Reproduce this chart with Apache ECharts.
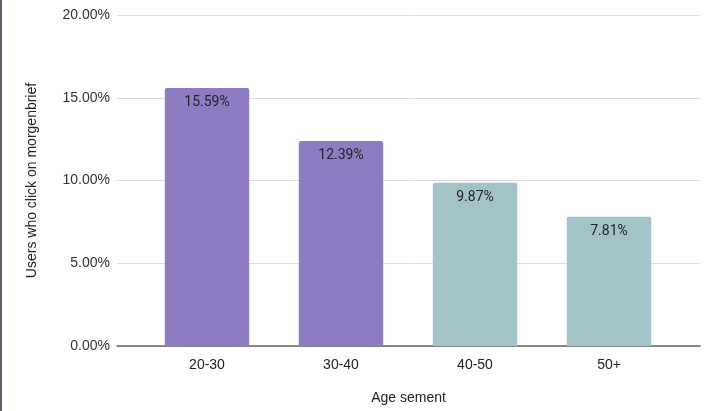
<!DOCTYPE html>
<html><head><meta charset="utf-8">
<script src="https://cdn.jsdelivr.net/npm/echarts@6/dist/echarts.min.js"></script>
<style>html,body{margin:0;padding:0;background:#fff;}#c{width:720px;height:411px;box-sizing:border-box;border-left:2px solid #5b6270;}</style>
</head><body><div id="c"></div>
<script>
const categories = ['20-30', '30-40', '40-50', '50+'];
const values = [15.59, 12.39, 9.87, 7.81];
const barColors = ['#8e7cc3', '#8e7cc3', '#a2c4c9', '#a2c4c9'];
const yTicks = [0, 5, 10, 15, 20];

const chart = echarts.init(document.getElementById('c'));
const font = 'Liberation Sans, Arial, sans-serif';
const yMin = yTicks[0], yMax = yTicks[yTicks.length - 1];
chart.setOption({
  animation: false,
  textStyle: {fontFamily: font},
  grid: [
    {left: 115, right: 20, top: 15, bottom: 65},
    {left: 138, right: 44, top: 15, bottom: 65}
  ],
  xAxis: [{
    gridIndex: 0, type: 'category', data: [''],
    name: 'Age sement', nameLocation: 'middle', nameGap: 45,
    nameTextStyle: {fontSize: 14, color: '#222', fontFamily: font},
    axisLine: {lineStyle: {color: '#666', width: 1.5}},
    axisTick: {show: false}, axisLabel: {show: false}
  }, {
    gridIndex: 1, type: 'category', data: categories,
    axisLine: {show: false}, axisTick: {show: false},
    axisLabel: {fontSize: 14, color: '#222', margin: 12, fontFamily: font}
  }],
  yAxis: [{
    gridIndex: 0, type: 'value', min: yMin, max: yMax, interval: 5,
    name: 'Users who click on morgenbrief', nameLocation: 'middle', nameGap: 78,
    nameTextStyle: {fontSize: 14, color: '#222', fontFamily: font},
    axisLine: {show: false}, axisTick: {show: false},
    axisLabel: {fontSize: 14, color: '#333', margin: 7, fontFamily: font,
      formatter: v => v.toFixed(2) + '%'},
    splitLine: {lineStyle: {color: '#dddddd', width: 1}}
  }, {
    gridIndex: 1, type: 'value', min: yMin, max: yMax, interval: 5,
    show: false
  }],
  series: [{
    type: 'bar', xAxisIndex: 1, yAxisIndex: 1, barWidth: '63%',
    data: values.map((v, i) => ({value: v, itemStyle: {color: barColors[i], borderRadius: [2, 2, 0, 0]}})),
    label: {show: true, position: 'insideTop', distance: 8, fontSize: 14, color: '#222', fontFamily: 'Roboto, sans-serif',
      formatter: p => p.value.toFixed(2) + '%'}
  }]
});
</script></body></html>
